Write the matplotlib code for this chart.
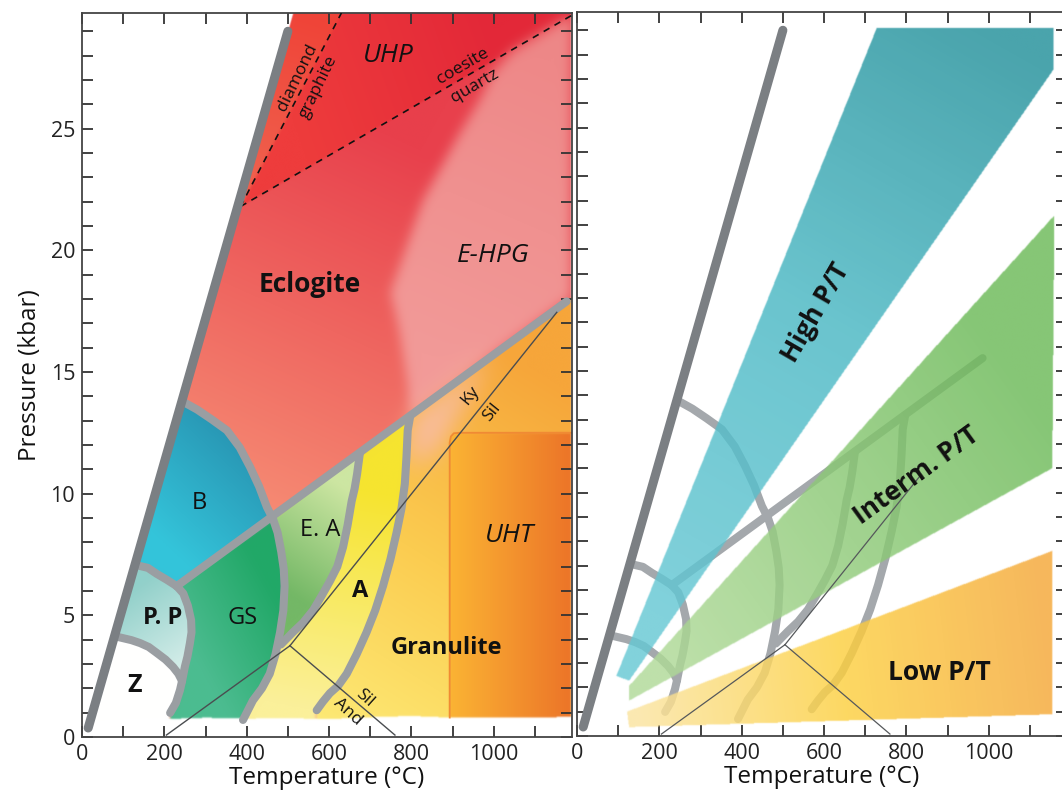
import numpy as np
import matplotlib
matplotlib.use('Agg')
from matplotlib import pyplot as plt
from matplotlib.path import Path
from matplotlib.colors import to_rgb

plt.rcParams['font.family'] = ['Open Sans', 'DejaVu Sans']

TMAX, PMAX = 1190, 29.75

# facies boundaries, T in degC, P in kbar
limit_line = [(15, 0.37), (500, 29.0)]
ecl_amph = [(230, 6.2), (1177, 17.9)]
ecl_amph_end_right = 985
blue_ecl = [(248, 13.75), (280, 13.45), (315, 13.05), (352, 12.6), (383, 11.9), (408, 11.1), (430, 10.3),
            (449, 9.45), (464, 8.95)]
gs_amph = [(464, 8.95), (475, 8.4), (484, 7.6), (490, 6.9), (492, 6.2), (489, 5.2), (481, 4.3), (470, 3.4),
           (456, 2.6), (437, 2.0), (415, 1.5), (391, 0.7)]
pp_top = [(135, 7.05), (160, 6.95), (182, 6.7), (207, 6.45), (230, 6.2)]
pp_gs_upper = [(230, 6.2), (246, 5.9), (257, 5.4), (265, 4.8), (266, 4.3), (262, 3.85), (256, 3.3), (250, 2.9),
               (243, 2.3)]
pp_gs_lower = [(243, 2.3), (238, 1.93), (228, 1.4), (214, 0.99)]
zeo_pp = [(90, 4.1), (120, 3.98), (141, 3.86), (162, 3.7), (182, 3.45), (203, 3.18), (221, 2.88), (234, 2.6),
          (243, 2.3)]
ea_amph = [(675, 11.68), (672, 11.3), (668, 10.8), (662, 10.2), (655, 9.7), (645, 8.7), (634, 7.8), (620, 7.0),
           (602, 6.4), (582, 5.8), (561, 5.2), (537, 4.7), (512, 4.3), (483, 3.8)]
amph_gran = [(797, 13.18), (791, 12.6), (788, 11.5), (784, 10.4), (776, 9.4), (764, 8.4), (749, 7.3), (731, 6.2),
             (712, 5.2), (691, 4.3), (667, 3.4), (643, 2.6), (622, 2.1), (602, 1.8), (585, 1.45), (570, 1.1)]
field_bottom = [(1190, 0.82), (1100, 0.78), (1000, 0.8), (900, 0.78), (800, 0.85), (700, 0.8),
                (600, 0.72), (500, 0.76), (400, 0.74), (300, 0.78), (200, 0.72)]
ehpg_edge = [(797, 13.2), (791, 14.5), (772, 16.6), (755, 17.9), (748, 18.2), (828, 22.05), (917, 24.8),
             (966, 26.2), (998, 27.3), (1046, 28.2), (1153, 29.3), (1190, 29.66)]
uht_box = [(893, 0.5), (893, 12.1), (896, 12.35), (903, 12.48), (917, 12.5), (1190, 12.5), (1190, 0.5)]
peach_zone = [(800, 13.2), (788, 11.2), (860, 11.6), (960, 14.6), (1000, 15.7)]

# reaction lines
diamond_graphite = [(385, 21.8), (630, 29.75)]
coesite_quartz = [(385, 21.8), (1190, 29.66)]
and_ky = [(205, 0.08), (505, 3.75)]
ky_sil = [(505, 3.75), (1153, 17.45)]
sil_and = [(505, 3.75), (760, 0.08)]
ky_sil_end_right = 830

# metamorphic field gradients
high_pt = [(95, 2.46), (728, 29.1), (1158, 29.1), (1158, 27.4), (126, 2.26)]
interm_pt = [(126, 2.05), (1160, 21.4), (1155, 11.0), (126, 1.44)]
low_pt = [(121, 0.99), (1155, 7.6), (1155, 0.88), (126, 0.35)]


def limit_T(p):
    (t0, p0), (t1, p1) = limit_line
    return t0 + (p - p0) * (t1 - t0) / (p1 - p0)


def line_P(seg, t):
    (t0, p0), (t1, p1) = seg
    return p0 + (t - t0) * (p1 - p0) / (t1 - t0)


# raster grid for the coloured fields
T = np.linspace(0, TMAX, 800)
P = np.linspace(0, PMAX, 1000)
TT, PP = np.meshgrid(T, P)
pts = np.column_stack([TT.ravel(), PP.ravel()])
XS, YS = TT / TMAX * 490, PP / PMAX * 724


def mask(poly):
    return Path(poly).contains_points(pts).reshape(TT.shape).astype(float)


def smooth(m, s):
    if s <= 0:
        return m
    r = int(3 * s) + 1
    k = np.exp(-0.5 * (np.arange(-r, r + 1) / s) ** 2)
    k /= k.sum()
    m = np.pad(m, r, mode='edge')
    m = np.apply_along_axis(np.convolve, 0, m, k, mode='valid')
    m = np.apply_along_axis(np.convolve, 1, m, k, mode='valid')
    return m


def ramp(colours, p0, p1):
    x0, y0 = p0[0] / TMAX * 490, p0[1] / PMAX * 724
    x1, y1 = p1[0] / TMAX * 490, p1[1] / PMAX * 724
    u = ((XS - x0) * (x1 - x0) + (YS - y0) * (y1 - y0)) / ((x1 - x0) ** 2 + (y1 - y0) ** 2)
    u = np.clip(u, 0, 1)
    rgb = np.array([to_rgb(c) for c in colours])
    stops = np.linspace(0, 1, len(colours))
    return np.stack([np.interp(u, stops, rgb[:, i]) for i in range(3)], axis=-1)


field = [(limit_T(0.6), 0.6), (limit_T(PMAX), PMAX), (TMAX, PMAX)] + field_bottom
uhp = coesite_quartz + [(TMAX, PMAX), (limit_T(PMAX), PMAX), (limit_T(21.8), 21.8)]
diamond = diamond_graphite + [(limit_T(PMAX), PMAX), (limit_T(21.8), 21.8)]
ehpg = ehpg_edge + [(TMAX, line_P(ecl_amph, TMAX))]
granulite = amph_gran + [(570, 0.3), (TMAX, 0.3), (TMAX, line_P(ecl_amph, TMAX))]
a_zone = gs_amph + [(391, 0.3), (570, 0.3)] + amph_gran[::-1]
ea_zone = [(464, 8.95)] + ea_amph + [p for p in gs_amph[::-1] if 3.8 < p[1] < 8.95]
gs_zone = [(230, 6.2)] + gs_amph + [(391, 0.3), (214, 0.3)] + (pp_gs_upper + pp_gs_lower[1:])[::-1]
b_zone = [(limit_T(7.05), 7.05), (limit_T(13.75), 13.75)] + blue_ecl + [(230, 6.2)] + pp_top[::-1]
pp_zone = [(limit_T(4.1), 4.1), (limit_T(7.05), 7.05)] + pp_top + pp_gs_upper[1:] + zeo_pp[::-1]
z_zone = [(limit_T(0), 0), (limit_T(4.1), 4.1)] + zeo_pp + pp_gs_lower[1:] + [(205, 0)]

layers = [
    (field, ['#f68c74', '#e8404c'], (300, 10), (700, 25), 1),
    (uhp, ['#ee3c3c', '#e32838'], (500, 26), (1000, 29), 1.5),
    (diamond, ['#f06450', '#ef4438'], (420, 22), (560, 29.5), 2),
    (ehpg, ['#f29a98', '#ee8888'], (800, 16), (1100, 28), 9),
    (granulite, ['#fdec78', '#fbcc50', '#f6a63a'], (550, 0), (1100, 15), 1.5),
    (peach_zone, ['#f8bc9c', '#f8bc9c'], (800, 12), (900, 14), 18),
    (uht_box, ['#fbb434', '#ec7428'], (893, 5), (1190, 5), 1.5),
    (a_zone, ['#fbf09a', '#f6e430'], (600, 1), (700, 10), 3),
    (ea_zone, ['#74b866', '#cde6a2'], (500, 6), (660, 10), 2),
    (gs_zone, ['#4cbc90', '#22a868'], (250, 4), (460, 6), 2),
    (b_zone, ['#34c4da', '#2894b2'], (200, 8), (420, 12), 2),
    (pp_zone, ['#92d0ca', '#d2ece8'], (120, 6), (240, 3), 2),
    (z_zone, ['#ffffff', '#ffffff'], (0, 0), (100, 0), 1.5),
]

facies_rgb = np.ones(TT.shape + (3,))
for poly, cols, p0, p1, s in layers:
    m = smooth(mask(poly), s)[..., None]
    facies_rgb = facies_rgb * (1 - m) + ramp(cols, p0, p1) * m
facies_alpha = smooth(mask(field), 1)
facies_img = np.dstack([facies_rgb, facies_alpha])

bands = [
    (high_pt, ['#66c8d4', '#4ab8c4', '#22909a'], (200, 5), (1000, 29)),
    (interm_pt, ['#b0da98', '#6cba58'], (200, 3), (1100, 14)),
    (low_pt, ['#fbe4a0', '#fdd040', '#f5a838'], (150, 1), (1150, 3)),
]
band_rgb = np.zeros(TT.shape + (3,))
band_cov = np.zeros(TT.shape)
for poly, cols, p0, p1 in bands:
    m = smooth(mask(poly), 0.7)
    band_rgb += ramp(cols, p0, p1) * m[..., None]
    band_cov += m
band_rgb /= np.maximum(band_cov, 1e-6)[..., None]
band_img = np.dstack([band_rgb, np.clip(band_cov, 0, 1) * 0.82])

f = plt.figure(figsize=(10.62, 8.0), dpi=100)
ax1 = f.add_axes([82 / 1062, 63 / 800, 490 / 1062, 724 / 800])
ax2 = f.add_axes([577 / 1062, 64 / 800, 490 / 1062, 724 / 800])

line_grey = '#9a9ea2'
limit_grey = '#7b7f83'
boundaries = [blue_ecl, gs_amph, pp_top, pp_gs_upper, pp_gs_lower, zeo_pp, ea_amph, amph_gran]

for ax in (ax1, ax2):
    ax.set_xlim(0, TMAX)
    ax.set_ylim(0, PMAX)
    ax.set_xticks(range(0, 1200, 100))
    ax.set_xticklabels([str(t) if t % 200 == 0 else '' for t in range(0, 1200, 100)])
    ax.set_yticks(range(0, 30))
    ax.tick_params(direction='in', top=True, right=True, length=8, width=1.3,
                   color='#333333', labelsize=15.5, labelcolor='#222222', pad=5)
    for sp in ax.spines.values():
        sp.set_linewidth(1.3)
        sp.set_color('#444444')
    ax.set_xlabel('Temperature (°C)', fontsize=17.5, color='#111111', labelpad=1)
    ax.plot(*zip(*limit_line), color=limit_grey, lw=6.5, solid_capstyle='round', zorder=6)

ax1.set_yticklabels([str(p) if p % 5 == 0 else '' for p in range(0, 30)])
ax1.set_ylabel('Pressure (kbar)', fontsize=17.5, color='#111111', labelpad=6)
ax2.set_yticklabels([])

# left panel: facies grid
ax1.imshow(facies_img, origin='lower', extent=(0, TMAX, 0, PMAX), aspect='auto', zorder=1)
ut, up = zip(*uht_box[1:-1])
ax1.plot([uht_box[0][0]] + list(ut), [0.8] + list(up), color='#f08a34', lw=1.3, zorder=2)
for seg in boundaries + [ecl_amph]:
    ax1.plot(*zip(*seg), color=line_grey, lw=5.8, solid_capstyle='round', solid_joinstyle='round', zorder=4)
for seg in (and_ky, ky_sil, sil_and):
    ax1.plot(*zip(*seg), color='#4a4d50', lw=1.0, zorder=5)
for seg in (diamond_graphite, coesite_quartz):
    ax1.plot(*zip(*seg), color='#111111', lw=1.2, dashes=(4, 3.5), zorder=5)

txt = dict(ha='center', va='center', color='#111111', zorder=8)
ax1.text(553, 18.6, 'Eclogite', fontsize=19, fontweight='bold', **txt)
ax1.text(998, 19.8, 'E-HPG', fontsize=19, style='italic', **txt)
ax1.text(743, 28.0, 'UHP', fontsize=19, style='italic', **txt)
ax1.text(286, 9.6, 'B', fontsize=17, **txt)
ax1.text(197, 4.9, 'P. P', fontsize=17, fontweight='bold', **txt)
ax1.text(391, 4.9, 'GS', fontsize=17, **txt)
ax1.text(578, 8.5, 'E. A', fontsize=17, **txt)
ax1.text(675, 6.0, 'A', fontsize=17, fontweight='bold', **txt)
ax1.text(886, 3.65, 'Granulite', fontsize=17, fontweight='bold', **txt)
ax1.text(1039, 8.3, 'UHT', fontsize=19, style='italic', **txt)
ax1.text(129, 2.1, 'Z', fontsize=18, fontweight='bold', **txt)
ax1.text(524, 27.1, 'diamond', fontsize=12.5, rotation=64, **txt)
ax1.text(573, 26.7, 'graphite', fontsize=12.5, rotation=64, **txt)
ax1.text(925, 27.55, 'coesite', fontsize=12.5, rotation=30, **txt)
ax1.text(954, 26.75, 'quartz', fontsize=12.5, rotation=30, **txt)
ax1.text(942, 14.05, 'Ky', fontsize=12.5, rotation=51, **txt)
ax1.text(995, 13.35, 'Sil', fontsize=12.5, rotation=51, **txt)
ax1.text(687, 1.6, 'Sil', fontsize=12.5, rotation=-42, **txt)
ax1.text(646, 1.03, 'And', fontsize=12.5, rotation=-42, **txt)

# right panel: field gradients over the faded facies grid
ecl_short = [ecl_amph[0], (ecl_amph_end_right, line_P(ecl_amph, ecl_amph_end_right))]
ky_sil_short = [ky_sil[0], (ky_sil_end_right, line_P(ky_sil, ky_sil_end_right))]
for seg in boundaries + [ecl_short]:
    ax2.plot(*zip(*seg), color='#a4a8ac', lw=5.8, solid_capstyle='round', solid_joinstyle='round', zorder=2)
ax2.imshow(band_img, origin='lower', extent=(0, TMAX, 0, PMAX), aspect='auto', zorder=3)
for seg in (and_ky, ky_sil_short, sil_and):
    ax2.plot(*zip(*seg), color='#55585b', lw=0.9, zorder=5)

ax2.text(580, 17.4, 'High P/T', fontsize=19, fontweight='bold', rotation=60, **txt)
ax2.text(825, 10.7, 'Interm. P/T', fontsize=19, fontweight='bold', rotation=36, **txt)
ax2.text(879, 2.6, 'Low P/T', fontsize=19, fontweight='bold', **txt)

f.savefig('out.png', dpi=100)
